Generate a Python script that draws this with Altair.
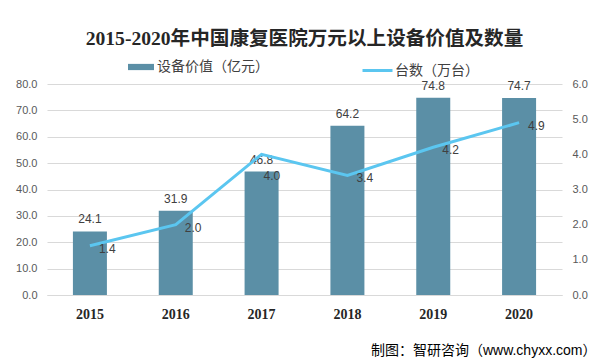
import altair as alt
import pandas as pd

years = ["2015", "2016", "2017", "2018", "2019", "2020"]
value_yi = [24.1, 31.9, 46.8, 64.2, 74.8, 74.7]
units_wan = [1.4, 2.0, 4.0, 3.4, 4.2, 4.9]
bar_name = "设备价值（亿元）"
line_name = "台数（万台）"

df = pd.DataFrame({
    "year": years,
    "value": value_yi,
    "units": units_wan,
    "s1": [bar_name] * len(years),
    "s2": [line_name] * len(years),
})

BAR = "#5B8FA6"
LINE = "#5BC6F0"
SANS = "Liberation Sans, Noto Sans CJK SC"
SERIF = "Liberation Serif, Noto Sans CJK SC"

x = alt.X("year:N", sort=years,
          scale=alt.Scale(paddingInner=0.6, paddingOuter=0.3),
          axis=alt.Axis(title="制图：智研咨询（www.chyxx.com）", labelAngle=0,
                        labelFont=SERIF, labelFontWeight="bold", labelFontSize=14,
                        labelColor="#262626", labelPadding=12, ticks=False,
                        domainColor="#D9D9D9", grid=False,
                        titleAnchor="end", titleAlign="right", titleX=549, titleY=55,
                        titleBaseline="middle", titleFont=SANS, titleFontSize=14,
                        titleFontWeight="normal", titleColor="#000000"))

yl = alt.Y("value:Q", scale=alt.Scale(domain=[0, 80]),
           axis=alt.Axis(title=None, values=list(range(0, 81, 10)), format=".1f",
                         labelFont=SANS, labelFontSize=11, labelColor="#595959",
                         ticks=False, domain=False, labelPadding=10,
                         grid=True, gridColor="#D9D9D9"))

yr = alt.Y("units:Q", scale=alt.Scale(domain=[0, 6]),
           axis=alt.Axis(title=None, orient="right", values=list(range(0, 7)), format=".1f",
                         labelFont=SANS, labelFontSize=11, labelColor="#595959",
                         ticks=False, domain=False, labelPadding=10, grid=False))

base = alt.Chart(df)

bars = base.mark_bar(size=34).encode(
    x=x, y=yl,
    color=alt.Color("s1:N", scale=alt.Scale(range=[BAR]),
                    legend=alt.Legend(title=None, orient="none", legendX=81, legendY=-30,
                                      symbolType="M-1,-0.24H1V0.24H-1Z", symbolSize=676,
                                      labelOffset=3,
                                      labelFont=SANS, labelFontSize=14, labelColor="#404040",
                                      symbolStrokeWidth=0)),
)
bar_text = base.mark_text(dy=-12, font=SANS, fontSize=12, color="#404040").encode(
    x=x, y=yl, text=alt.Text("value:Q", format=".1f"))

line = base.mark_line(strokeWidth=3).encode(
    x=x, y=yr,
    stroke=alt.Stroke("s2:N", scale=alt.Scale(range=[LINE]),
                      legend=alt.Legend(title=None, orient="none", legendX=314, legendY=-30,
                                        symbolType="stroke", symbolSize=900, symbolStrokeWidth=3,
                                        labelOffset=1,
                                        labelFont=SANS, labelFontSize=14, labelColor="#404040")),
)
line_text = base.transform_filter(alt.datum.year != "2017").mark_text(
    align="left", dx=9, dy=3, font=SANS, fontSize=12, color="#404040").encode(
    x=x, y=yr, text=alt.Text("units:Q", format=".1f"))
line_text_2017 = base.transform_filter(alt.datum.year == "2017").mark_text(
    align="left", dx=2, dy=22, font=SANS, fontSize=12, color="#404040").encode(
    x=x, y=yr, text=alt.Text("units:Q", format=".1f"))

left = alt.layer(bars, bar_text)
right = alt.layer(line, line_text, line_text_2017)

chart = alt.layer(left, right).resolve_scale(y="independent", color="independent").properties(
    width=515, height=211,
    autosize=alt.AutoSizeParams(type="none"),
    padding={"left": 39, "top": 76, "right": 35, "bottom": 66},
    title=alt.TitleParams("2015-2020年中国康复医院万元以上设备价值及数量",
                          font=SERIF, fontSize=19.6, fontWeight="bold", color="#262626",
                          anchor="middle", offset=4),
    background="white",
).configure_view(stroke=None)

chart.save("out.html", embed_options={"renderer": "svg", "actions": False})
